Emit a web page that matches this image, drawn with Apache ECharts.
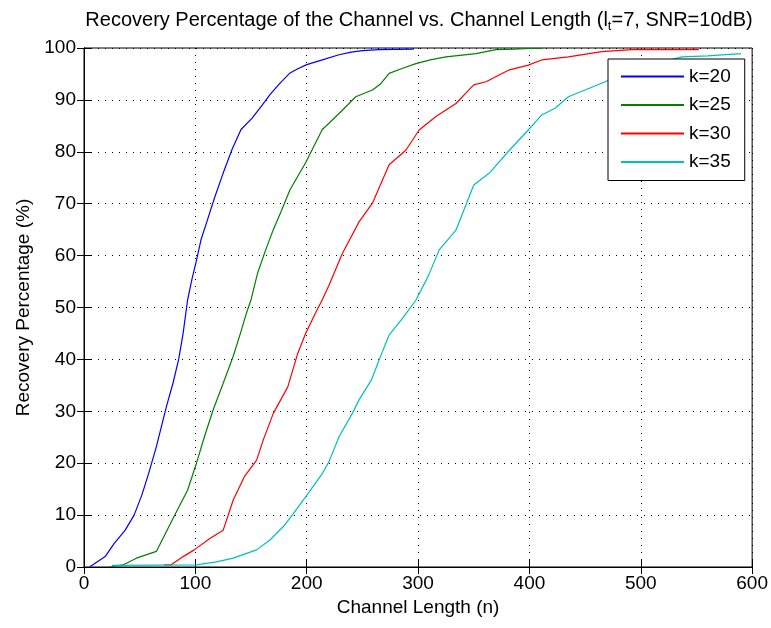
<!DOCTYPE html>
<html>
<head>
<meta charset="utf-8">
<script src="https://cdn.jsdelivr.net/npm/echarts@6/dist/echarts.min.js"></script>
<style>
  html, body { margin: 0; padding: 0; background: #fff; }
  #chart { width: 771px; height: 628px; }
</style>
</head>
<body>
<div id="chart"></div>
<script>
// values, [n, %]
const k20 = [[5,0],[19,2],[27,4.5],[37,7.1],[45,10],[52,13.9],[58,18],[65,23.2],[74,30.9],[80,35.5],[85,40],[89,45],[93,51.4],[97,55.5],[101,59.1],[105,63],[110,66.3],[117,71],[125,75.9],[133,80.5],[141,84.3],[151,86.5],[160,89],[167,91],[175,93],[185,95.2],[192,96],[200,96.8],[214,97.7],[229,98.7],[240,99.2],[250,99.5],[265,99.7],[296,99.8]]
const k25 = [[23,0],[35,0.4],[47,1.7],[65,3],[80,9.4],[93,14.8],[101,20],[108,25],[116,30.3],[125,35.4],[134,40.6],[141,45.4],[146,49],[150,51.5],[156,56.7],[163,61],[170,65],[177,68.5],[185,72.7],[199,77.9],[214,84.3],[220,85.5],[232,88],[244,90.6],[259,91.9],[266,93],[274,95.1],[285,96],[298,97],[311,97.7],[325,98.3],[352,98.9],[370,99.7],[386,99.8],[400,99.9],[412,99.9]]
const k30 = [[72,0.4],[78,0.4],[89,2],[99,3.3],[113,5.5],[125,7.1],[134,12.9],[144,17.4],[155,20.6],[161,24.5],[170,29.6],[183,34.7],[192,41.2],[199,45],[208,49],[214,51.5],[220,54.3],[232,60.4],[247,66.5],[259,70.1],[274,77.5],[289,80.3],[301,84.2],[316,86.8],[334,89.3],[350,92.9],[361,93.5],[382,95.8],[399,96.7],[411,97.7],[435,98.3],[465,99.3],[492,99.7],[552,99.7]]
const k35 = [[25,0.3],[101,0.4],[119,1],[134,1.7],[155,3.3],[167,5.2],[179,7.8],[187,10],[199,13.5],[214,18],[220,20.3],[229,25.1],[241,29.6],[247,32.2],[258,36],[265,39.9],[274,44.7],[286,47.9],[298,51.4],[309,56],[319,61.1],[334,64.9],[350,73.6],[364,75.9],[382,80.3],[399,84.2],[411,87.1],[423,88.4],[435,90.6],[450,91.9],[468,93.5],[490,95.5],[510,96.8],[537,98.3],[560,98.5],[590,98.9]]

const seriesNames = ['k=20', 'k=25', 'k=30', 'k=35']
const seriesData = [k20, k25, k30, k35]
const colors = ['#0000ff', '#008000', '#ff0000', '#00bfbf']

const font = 'Liberation Sans, Arial, sans-serif'
const black = '#000'
const fs = 19

const chart = echarts.init(document.getElementById('chart'))

const inTick = { show: true, inside: true, length: 7, lineStyle: { color: black } }
const dotted = { show: true, lineStyle: { color: black, type: [1, 6], width: 1 } }
const txt = { fontFamily: font, fontSize: fs, color: black, fontWeight: 'normal' }

chart.setOption({
  animation: false,
  title: {
    text: '{a|Recovery Percentage of the Channel vs. Channel Length (l}{s|t}{a|=7, SNR=10dB)}',
    left: 414,
    top: 2,
    textAlign: 'center',
    textStyle: {
      fontWeight: 'normal',
      rich: {
        a: Object.assign({}, txt, { fontSize: 20 }),
        s: { fontFamily: font, fontSize: 13, color: black, padding: [13, 0, 0, 0] }
      }
    }
  },
  grid: {
    left: 84, right: 17, top: 48, bottom: 61,
    show: true, borderColor: black, borderWidth: 1
  },
  legend: {
    orient: 'vertical',
    left: 608, top: 59,
    padding: [8, 14, 9, 12],
    itemWidth: 63, itemHeight: 14, itemGap: 9.5,
    backgroundColor: '#fff',
    borderColor: black, borderWidth: 1,
    itemStyle: { opacity: 0 },
    textStyle: txt,
    data: seriesNames
  },
  xAxis: [{
    type: 'value', min: 0, max: 600, interval: 100,
    name: 'Channel Length (n)', nameLocation: 'middle', nameGap: 30,
    nameTextStyle: txt,
    axisLine: { show: true, lineStyle: { color: black } },
    axisTick: inTick,
    axisLabel: Object.assign({ margin: 7 }, txt),
    splitLine: dotted
  }, {
    type: 'value', min: 0, max: 600, interval: 100, position: 'top',
    axisLine: { show: true, lineStyle: { color: black } },
    axisTick: inTick, axisLabel: { show: false }, splitLine: { show: false }
  }],
  yAxis: [{
    type: 'value', min: 0, max: 100, interval: 10,
    name: 'Recovery Percentage (%)', nameLocation: 'middle', nameGap: 50,
    nameTextStyle: txt,
    axisLine: { show: true, lineStyle: { color: black } },
    axisTick: inTick,
    axisLabel: Object.assign({ margin: 8 }, txt),
    splitLine: dotted
  }, {
    type: 'value', min: 0, max: 100, interval: 10, position: 'right',
    axisLine: { show: true, lineStyle: { color: black } },
    axisTick: inTick, axisLabel: { show: false }, splitLine: { show: false }
  }],
  series: seriesData.map((d, i) => ({
    name: seriesNames[i],
    type: 'line',
    data: d,
    symbol: 'none',
    lineStyle: { color: colors[i], width: 1.2 },
    itemStyle: { color: colors[i] },
    z: 2
  }))
})
</script>
</body>
</html>
